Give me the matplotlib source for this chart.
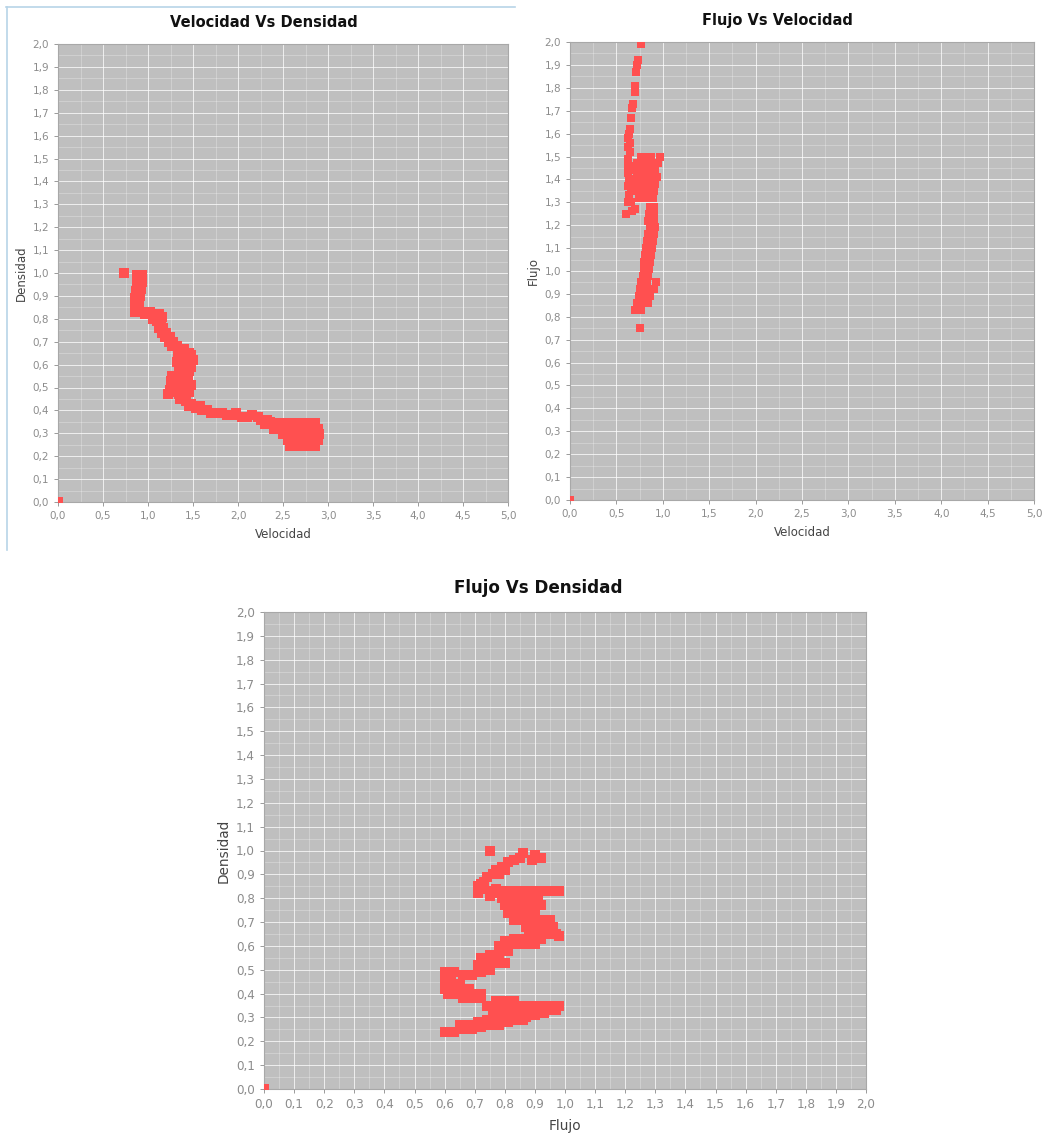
import numpy as np
import matplotlib
matplotlib.use("Agg")
import matplotlib.pyplot as plt
from matplotlib.lines import Line2D

plt.rcParams["font.family"] = ["DejaVu Sans"]

# ---- data ----
# Velocidad Vs Densidad  (x = velocidad, y = densidad)
vd_points = [
    (0.0, 0.0), (0.73, 1.00),
    (0.88, 0.99), (0.93, 0.99), (0.90, 0.97), (0.93, 0.96), (0.88, 0.95), (0.92, 0.93),
    (0.87, 0.92), (0.91, 0.90), (0.86, 0.89), (0.90, 0.87), (0.85, 0.86), (0.89, 0.85),
    (0.86, 0.83), (0.92, 0.83),
    (0.97, 0.82), (1.02, 0.83), (1.07, 0.82), (1.12, 0.82), (1.16, 0.81), (1.05, 0.80),
    (1.10, 0.79), (1.14, 0.78), (1.12, 0.76), (1.17, 0.76), (1.15, 0.74), (1.20, 0.74),
    (1.19, 0.72), (1.24, 0.72), (1.23, 0.70), (1.28, 0.70), (1.27, 0.68), (1.32, 0.68),
    (1.35, 0.66), (1.40, 0.67), (1.45, 0.65), (1.48, 0.64),
    (1.33, 0.64), (1.38, 0.63), (1.44, 0.62), (1.50, 0.62), (1.32, 0.61), (1.37, 0.60),
    (1.43, 0.60), (1.48, 0.59), (1.34, 0.58), (1.40, 0.57), (1.46, 0.57), (1.27, 0.55),
    (1.32, 0.55), (1.38, 0.54), (1.44, 0.54), (1.25, 0.53), (1.35, 0.52), (1.42, 0.51),
    (1.48, 0.51), (1.38, 0.49), (1.45, 0.48), (1.24, 0.49), (1.29, 0.48), (1.34, 0.47),
    (1.22, 0.47), (1.40, 0.46),
    (1.35, 0.45), (1.42, 0.44), (1.48, 0.43), (1.45, 0.42), (1.53, 0.41), (1.58, 0.42),
    (1.60, 0.40), (1.66, 0.40), (1.70, 0.39), (1.76, 0.39), (1.82, 0.39), (1.88, 0.38),
    (1.94, 0.38), (1.98, 0.39), (2.04, 0.37), (2.10, 0.37), (2.16, 0.38), (2.22, 0.37),
    (2.26, 0.36), (2.32, 0.36), (2.36, 0.35), (2.30, 0.34), (2.40, 0.33),
    (2.42, 0.345), (2.50, 0.345), (2.57, 0.345), (2.64, 0.345), (2.72, 0.345), (2.80, 0.345),
    (2.86, 0.345),
    (2.40, 0.32), (2.47, 0.32), (2.54, 0.32), (2.61, 0.32), (2.68, 0.32), (2.75, 0.32),
    (2.82, 0.32), (2.89, 0.32),
    (2.50, 0.295), (2.57, 0.295), (2.64, 0.295), (2.71, 0.295), (2.78, 0.295), (2.85, 0.295),
    (2.90, 0.295),
    (2.56, 0.27), (2.63, 0.27), (2.70, 0.27), (2.77, 0.27), (2.84, 0.27), (2.89, 0.27),
    (2.58, 0.245), (2.65, 0.245), (2.72, 0.245), (2.79, 0.245), (2.85, 0.245),
]

# Flujo Vs Velocidad  (x = velocidad, y = flujo)
fv_points = [
    (0.0, 0.0),
    (0.77, 1.99), (0.73, 1.92), (0.72, 1.90), (0.71, 1.87), (0.70, 1.81), (0.70, 1.78),
    (0.68, 1.73), (0.67, 1.71), (0.66, 1.67), (0.65, 1.62), (0.64, 1.60),
    (0.63, 1.58), (0.65, 1.56), (0.62, 1.54), (0.65, 1.52), (0.63, 1.49), (0.62, 1.46),
    (0.66, 1.46), (0.63, 1.43), (0.64, 1.40), (0.62, 1.37), (0.66, 1.36), (0.64, 1.33),
    (0.66, 1.30), (0.63, 1.30), (0.60, 1.25), (0.67, 1.26), (0.70, 1.27),
    (0.76, 1.50), (0.80, 1.50), (0.87, 1.50), (0.97, 1.50),
    (0.72, 1.47), (0.78, 1.47), (0.83, 1.47), (0.90, 1.47), (0.95, 1.47),
    (0.70, 1.44), (0.75, 1.44), (0.81, 1.44), (0.86, 1.44), (0.92, 1.44),
    (0.72, 1.41), (0.79, 1.41), (0.84, 1.41), (0.90, 1.41), (0.94, 1.41),
    (0.70, 1.38), (0.76, 1.38), (0.82, 1.38), (0.88, 1.38), (0.92, 1.38),
    (0.72, 1.35), (0.80, 1.35), (0.86, 1.35), (0.91, 1.35),
    (0.74, 1.32), (0.83, 1.32), (0.89, 1.32),
    (0.86, 1.28), (0.91, 1.28), (0.85, 1.25), (0.90, 1.25), (0.84, 1.22), (0.90, 1.22),
    (0.86, 1.19), (0.92, 1.19), (0.84, 1.16), (0.91, 1.16), (0.83, 1.13), (0.89, 1.13),
    (0.82, 1.10), (0.88, 1.10), (0.81, 1.07), (0.87, 1.07), (0.80, 1.04), (0.86, 1.04),
    (0.80, 1.01), (0.85, 1.01), (0.79, 0.98), (0.84, 0.98),
    (0.77, 0.95), (0.83, 0.95), (0.93, 0.95), (0.75, 0.92), (0.82, 0.92), (0.90, 0.92),
    (0.74, 0.89), (0.80, 0.89), (0.86, 0.89), (0.72, 0.86), (0.78, 0.86), (0.84, 0.86),
    (0.70, 0.83), (0.76, 0.83),
    (0.75, 0.75),
]

# Flujo Vs Densidad  (x = flujo, y = densidad)
fd_points = [
    (0.0, 0.0), (0.75, 1.00),
    (0.90, 0.98), (0.92, 0.97), (0.89, 0.96),
    (0.86, 0.99), (0.85, 0.97), (0.83, 0.96), (0.81, 0.95), (0.79, 0.93), (0.77, 0.92),
    (0.80, 0.92), (0.76, 0.90), (0.74, 0.89), (0.78, 0.90), (0.73, 0.87), (0.72, 0.86),
    (0.71, 0.85), (0.71, 0.82), (0.73, 0.84), (0.75, 0.83), (0.77, 0.84), (0.75, 0.81),
    (0.78, 0.82),
    (0.80, 0.83), (0.83, 0.83), (0.86, 0.83), (0.89, 0.83), (0.92, 0.83), (0.95, 0.83),
    (0.98, 0.83),
    (0.79, 0.80), (0.82, 0.80), (0.85, 0.80), (0.88, 0.80), (0.91, 0.80),
    (0.80, 0.77), (0.83, 0.77), (0.86, 0.77), (0.89, 0.77), (0.92, 0.77),
    (0.81, 0.74), (0.84, 0.74), (0.87, 0.74), (0.90, 0.74),
    (0.83, 0.71), (0.86, 0.71), (0.89, 0.71), (0.92, 0.71), (0.95, 0.71),
    (0.87, 0.68), (0.90, 0.68), (0.93, 0.68), (0.96, 0.68),
    (0.88, 0.65), (0.91, 0.65), (0.94, 0.65), (0.97, 0.65), (0.98, 0.64),
    (0.80, 0.62), (0.83, 0.63), (0.86, 0.63), (0.89, 0.64), (0.92, 0.63),
    (0.78, 0.60), (0.81, 0.60), (0.84, 0.61), (0.87, 0.61), (0.90, 0.61),
    (0.78, 0.58), (0.81, 0.58),
    (0.72, 0.55), (0.75, 0.56), (0.78, 0.55), (0.74, 0.53), (0.77, 0.53), (0.80, 0.53),
    (0.71, 0.52),
    (0.60, 0.49), (0.63, 0.49), (0.66, 0.48), (0.69, 0.48), (0.72, 0.49), (0.75, 0.50),
    (0.60, 0.46), (0.62, 0.46),
    (0.60, 0.44), (0.63, 0.44), (0.65, 0.44),
    (0.60, 0.42), (0.62, 0.42), (0.65, 0.42), (0.68, 0.42),
    (0.61, 0.40), (0.64, 0.40), (0.67, 0.40), (0.70, 0.40), (0.72, 0.40),
    (0.66, 0.38), (0.69, 0.38), (0.72, 0.38),
    (0.77, 0.37), (0.80, 0.37), (0.83, 0.37),
    (0.74, 0.35), (0.77, 0.35), (0.80, 0.35), (0.83, 0.35), (0.86, 0.35), (0.89, 0.35),
    (0.92, 0.35), (0.95, 0.35), (0.98, 0.35),
    (0.76, 0.33), (0.79, 0.33), (0.82, 0.33), (0.85, 0.33), (0.88, 0.33), (0.91, 0.33),
    (0.94, 0.33), (0.97, 0.33),
    (0.78, 0.31), (0.81, 0.31), (0.84, 0.31), (0.87, 0.31), (0.90, 0.31),
    (0.77, 0.29), (0.80, 0.29), (0.83, 0.29), (0.86, 0.29),
    (0.60, 0.24), (0.63, 0.24), (0.66, 0.25), (0.69, 0.25), (0.72, 0.26), (0.75, 0.27),
    (0.78, 0.27), (0.81, 0.28), (0.84, 0.29), (0.87, 0.30), (0.90, 0.31), (0.93, 0.32),
    (0.65, 0.27), (0.68, 0.27), (0.71, 0.28), (0.74, 0.29), (0.77, 0.30),
]

x_ticks_vel = [0.0, 0.5, 1.0, 1.5, 2.0, 2.5, 3.0, 3.5, 4.0, 4.5, 5.0]
x_labels_vel = ["0,0", "0,5", "1,0", "1,5", "2,0", "2,5", "3,0", "3,5", "4,0", "4,5", "5,0"]
ticks_2 = [i / 10 for i in range(21)]
labels_2 = ["0,0", "0,1", "0,2", "0,3", "0,4", "0,5", "0,6", "0,7", "0,8", "0,9", "1,0",
            "1,1", "1,2", "1,3", "1,4", "1,5", "1,6", "1,7", "1,8", "1,9", "2,0"]

RED = "#ff5050"
BG = "#bfbfbf"
TICK = "#8a8a8a"

fig = plt.figure(figsize=(10.48, 11.41), dpi=100)
W, H = 1048, 1141


def panel(box, pts, xmax, xticks, xlabels, title, title_x, xlabel, ylabel, scale, ms):
    l, t, r, b = box
    ax = fig.add_axes([l / W, 1 - b / H, (r - l) / W, (b - t) / H])
    ax.set_facecolor(BG)
    pts = np.array(pts)
    ax.plot(pts[:, 0], pts[:, 1], "s", color=RED, ms=ms, mew=0, zorder=3)
    ax.set_xlim(0, xmax)
    ax.set_ylim(0, 2.0)
    ax.set_xticks(xticks)
    ax.set_xticklabels(xlabels)
    ax.set_yticks(ticks_2)
    ax.set_yticklabels(labels_2)
    step = xticks[1] - xticks[0]
    ax.set_xticks([x + step / 2 for x in xticks[:-1]], minor=True)
    ax.set_yticks([y + 0.05 for y in ticks_2[:-1]], minor=True)
    ax.grid(True, which="major", color="white", lw=0.7, alpha=0.75)
    ax.grid(True, which="minor", color="white", lw=0.6, alpha=0.3)
    ax.set_axisbelow(True)
    ax.tick_params(which="major", colors=TICK, labelsize=7.5 * scale, length=3, width=0.6,
                   labelcolor="#8c8c8c")
    ax.tick_params(which="minor", length=0)
    for s in ax.spines.values():
        s.set_color("#a8a8a8")
        s.set_linewidth(0.8)
    ax.set_title(title, x=title_x, fontsize=10.5 * scale, fontweight="bold",
                 color="#111111", pad=12 * scale)
    ax.set_xlabel(xlabel, fontsize=8.5 * scale, color="#444444", labelpad=5 * scale)
    ax.set_ylabel(ylabel, fontsize=8.5 * scale, color="#444444", labelpad=3 * scale)
    return ax


panel((58, 44, 508, 502), vd_points, 5.0, x_ticks_vel, x_labels_vel,
      "Velocidad Vs Densidad", 0.458, "Velocidad", "Densidad", 1.0, 6.5)
panel((570, 42, 1034, 500), fv_points, 5.0, x_ticks_vel, x_labels_vel,
      "Flujo Vs Velocidad", 0.446, "Velocidad", "Flujo", 1.0, 6.0)
panel((264, 612, 866, 1089), fd_points, 2.0, ticks_2, labels_2,
      "Flujo Vs Densidad", 0.455, "Flujo", "Densidad", 1.15, 6.8)

# window frame of the first screenshot
fig.add_artist(Line2D([6 / W, 515 / W], [1 - 7 / H, 1 - 7 / H], color="#b8d4e8", lw=1.2))
fig.add_artist(Line2D([7 / W, 7 / W], [1 - 7 / H, 1 - 550 / H], color="#b8d4e8", lw=1.2))

fig.savefig("out.png", dpi=100)
